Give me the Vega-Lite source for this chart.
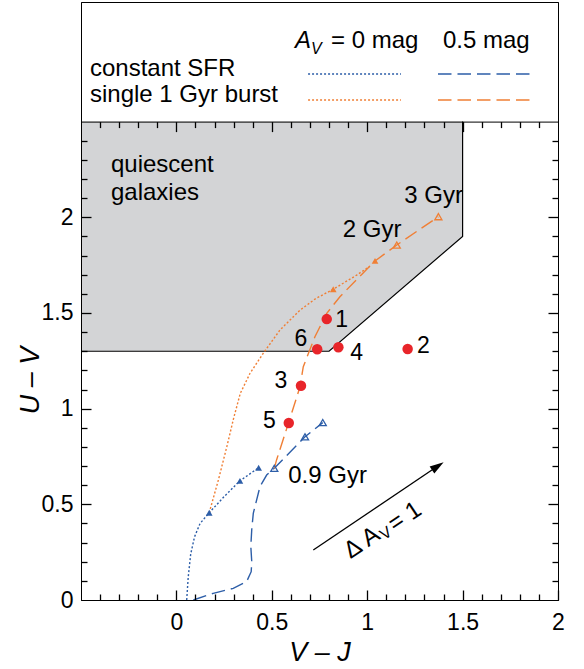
{
  "$schema": "https://vega.github.io/schema/vega-lite/v6.json",
  "width": 477,
  "height": 598,
  "autosize": {"type": "none"},
  "padding": {"left": 81, "top": 2, "right": 26, "bottom": 69},
  "config": {
    "font": "Liberation Sans",
    "view": {"stroke": "black", "strokeWidth": 1}
  },
  "resolve": {"axis": {"x": "independent", "y": "independent"}},
  "layer": [
    {
      "data": {"values": [
        {"x": -0.5, "y": 1.3, "ytop": 2.5},
        {"x": 0.8, "y": 1.3, "ytop": 2.5},
        {"x": 1.5, "y": 1.9, "ytop": 2.5}
      ]},
      "mark": {"type": "area", "color": "#d3d4d6", "opacity": 1},
      "encoding": {
        "x": {"field": "x", "type": "quantitative",
          "scale": {"domain": [-0.5, 2], "nice": false, "zero": false},
          "axis": {
            "orient": "bottom", "zindex": 1,
            "values": [-0.4, -0.3, -0.2, -0.1, 0, 0.1, 0.2, 0.3, 0.4, 0.5, 0.6, 0.7, 0.8, 0.9, 1, 1.1, 1.2, 1.3, 1.4, 1.5, 1.6, 1.7, 1.8, 1.9, 2],
            "format": "~g",
            "labelExpr": "abs(datum.value*2-round(datum.value*2))<0.001 ? datum.label : ''",
            "tickSize": {"condition": {"test": "abs(datum.value*2-round(datum.value*2))<0.001", "value": -10}, "value": -6},
            "tickColor": "black", "domainColor": "black", "tickWidth": 1.3, "domainWidth": 1,
            "labelFontSize": 23, "labelColor": "black", "labelPadding": 21,
            "labelFlush": false, "labelOverlap": false, "labelBound": false,
            "grid": false,
            "title": "V – J", "titleFontSize": 27, "titleFontStyle": "italic", "titleFontWeight": "normal",
            "titleColor": "black", "titleY": 52, "titleBaseline": "middle"
          }
        },
        "y": {"field": "y", "type": "quantitative",
          "scale": {"domain": [0, 3.125], "nice": false, "zero": false},
          "axis": {
            "orient": "left", "zindex": 1,
            "values": [0, 0.5, 1, 1.5, 2],
            "format": "~g",
            "tickSize": -10, "tickOpacity": 0,
            "domainColor": "black", "domainWidth": 1,
            "labelFontSize": 23, "labelColor": "black", "labelPadding": 18,
            "labelFlush": false, "labelOverlap": false, "labelBound": false,
            "grid": false,
            "title": "U – V", "titleFontSize": 27, "titleFontStyle": "italic", "titleFontWeight": "normal",
            "titleColor": "black", "titleX": -51, "titleY": 378, "titleBaseline": "middle", "titleAlign": "center", "titleAngle": 270
          }
        },
        "y2": {"field": "ytop"}
      }
    },
    {
      "data": {"values": [
        {"x": -0.5, "y": 1.3, "o": 1},
        {"x": 0.8, "y": 1.3, "o": 2},
        {"x": 1.5, "y": 1.9, "o": 3},
        {"x": 1.5, "y": 2.5, "o": 4}
      ]},
      "mark": {"type": "line", "color": "black", "strokeWidth": 1.2},
      "encoding": {
        "x": {"field": "x", "type": "quantitative",
          "axis": {"orient": "top", "offset": -129.6, "zindex": 1, "values": [0, 0.5, 1, 1.5],
            "tickSize": 10, "tickColor": "black", "tickWidth": 1.3, "labels": false, "domain": false, "title": null, "grid": false}
        },
        "y": {"field": "y", "type": "quantitative",
          "axis": {"orient": "left", "offset": -10, "zindex": 1, "values": [0.5, 1, 1.5, 2],
            "tickSize": 10, "tickColor": "black", "tickWidth": 1.3, "labels": false, "domain": false, "title": null, "grid": false}
        },
        "order": {"field": "o"}
      }
    },
    {
      "data": {"values": [
        {"series": "sfr0", "o": 1, "x": 0.054, "y": 0},
        {"series": "sfr0", "o": 2, "x": 0.062, "y": 0.12},
        {"series": "sfr0", "o": 3, "x": 0.075, "y": 0.24},
        {"series": "sfr0", "o": 4, "x": 0.095, "y": 0.33},
        {"series": "sfr0", "o": 5, "x": 0.124, "y": 0.40},
        {"series": "sfr0", "o": 6, "x": 0.172, "y": 0.456},
        {"series": "sfr0", "o": 7, "x": 0.25, "y": 0.54},
        {"series": "sfr0", "o": 8, "x": 0.333, "y": 0.623},
        {"series": "sfr0", "o": 9, "x": 0.431, "y": 0.691},
        {"series": "burst0", "o": 1, "x": 0.172, "y": 0.456},
        {"series": "burst0", "o": 2, "x": 0.22, "y": 0.627},
        {"series": "burst0", "o": 3, "x": 0.264, "y": 0.80},
        {"series": "burst0", "o": 4, "x": 0.30, "y": 0.95},
        {"series": "burst0", "o": 5, "x": 0.335, "y": 1.08},
        {"series": "burst0", "o": 6, "x": 0.386, "y": 1.185},
        {"series": "burst0", "o": 7, "x": 0.455, "y": 1.289},
        {"series": "burst0", "o": 8, "x": 0.543, "y": 1.411},
        {"series": "burst0", "o": 9, "x": 0.648, "y": 1.515},
        {"series": "burst0", "o": 10, "x": 0.73, "y": 1.575},
        {"series": "burst0", "o": 11, "x": 0.822, "y": 1.624},
        {"series": "burst0", "o": 12, "x": 0.945, "y": 1.698},
        {"series": "burst0", "o": 13, "x": 1.015, "y": 1.745},
        {"series": "sfr05", "o": 1, "x": 0.089, "y": 0},
        {"series": "sfr05", "o": 2, "x": 0.193, "y": 0.035},
        {"series": "sfr05", "o": 3, "x": 0.298, "y": 0.061},
        {"series": "sfr05", "o": 4, "x": 0.368, "y": 0.096},
        {"series": "sfr05", "o": 5, "x": 0.392, "y": 0.148},
        {"series": "sfr05", "o": 6, "x": 0.395, "y": 0.20},
        {"series": "sfr05", "o": 7, "x": 0.390, "y": 0.28},
        {"series": "sfr05", "o": 8, "x": 0.395, "y": 0.37},
        {"series": "sfr05", "o": 9, "x": 0.403, "y": 0.453},
        {"series": "sfr05", "o": 10, "x": 0.438, "y": 0.592},
        {"series": "sfr05", "o": 11, "x": 0.473, "y": 0.653},
        {"series": "sfr05", "o": 12, "x": 0.513, "y": 0.688},
        {"series": "sfr05", "o": 13, "x": 0.674, "y": 0.853},
        {"series": "sfr05", "o": 14, "x": 0.767, "y": 0.927},
        {"series": "burst05", "o": 1, "x": 0.513, "y": 0.688},
        {"series": "burst05", "o": 2, "x": 0.525, "y": 0.732},
        {"series": "burst05", "o": 3, "x": 0.587, "y": 0.923},
        {"series": "burst05", "o": 4, "x": 0.648, "y": 1.115},
        {"series": "burst05", "o": 5, "x": 0.665, "y": 1.219},
        {"series": "burst05", "o": 6, "x": 0.726, "y": 1.376},
        {"series": "burst05", "o": 7, "x": 0.788, "y": 1.498},
        {"series": "burst05", "o": 8, "x": 0.857, "y": 1.585},
        {"series": "burst05", "o": 9, "x": 0.95, "y": 1.68},
        {"series": "burst05", "o": 10, "x": 1.041, "y": 1.772},
        {"series": "burst05", "o": 11, "x": 1.155, "y": 1.855},
        {"series": "burst05", "o": 12, "x": 1.373, "y": 2.003}
      ]},
      "mark": {"type": "line", "strokeWidth": 1.4},
      "encoding": {
        "x": {"field": "x", "type": "quantitative",
          "axis": {"orient": "top", "offset": -125.6, "zindex": 1,
            "values": [-0.4, -0.3, -0.2, -0.1, 0.1, 0.2, 0.3, 0.4, 0.6, 0.7, 0.8, 0.9, 1.1, 1.2, 1.3, 1.4, 1.6, 1.7, 1.8, 1.9],
            "tickSize": 6, "tickColor": "black", "tickWidth": 1.3, "labels": false, "domain": false, "title": null, "grid": false}
        },
        "y": {"field": "y", "type": "quantitative",
          "axis": {"orient": "left", "offset": -6, "zindex": 1,
            "values": [0.1, 0.2, 0.3, 0.4, 0.6, 0.7, 0.8, 0.9, 1.1, 1.2, 1.3, 1.4, 1.6, 1.7, 1.8, 1.9, 2.1, 2.2, 2.3, 2.4],
            "tickSize": 6, "tickColor": "black", "tickWidth": 1.3, "labels": false, "domain": false, "title": null, "grid": false}
        },
        "order": {"field": "o"},
        "color": {"field": "series", "type": "nominal", "legend": null,
          "scale": {"domain": ["sfr0", "burst0", "sfr05", "burst05"], "range": ["#2d5ea8", "#f07f35", "#2d5ea8", "#f07f35"]}},
        "strokeDash": {"field": "series", "type": "nominal", "legend": null,
          "scale": {"domain": ["sfr0", "burst0", "sfr05", "burst05"], "range": [[2, 2], [2, 2], [13.5, 6], [13.5, 6]]}}
      }
    },
    {
      "data": {"values": [
        {"series": "sfr0", "x": 0.69, "x2": 1.177, "y": 2.749},
        {"series": "sfr05", "x": 1.371, "x2": 1.869, "y": 2.749},
        {"series": "burst0", "x": 0.69, "x2": 1.177, "y": 2.613},
        {"series": "burst05", "x": 1.371, "x2": 1.869, "y": 2.613}
      ]},
      "mark": {"type": "rule", "strokeWidth": 1.4},
      "encoding": {
        "x": {"field": "x", "type": "quantitative", "axis": null},
        "x2": {"field": "x2"},
        "y": {"field": "y", "type": "quantitative", "axis": null},
        "color": {"field": "series", "type": "nominal", "legend": null},
        "strokeDash": {"field": "series", "type": "nominal", "legend": null}
      }
    },
    {
      "data": {"values": [
        {"series": "sfr0", "x": 0.172, "y": 0.456},
        {"series": "sfr0", "x": 0.333, "y": 0.623},
        {"series": "sfr0", "x": 0.431, "y": 0.691},
        {"series": "burst0", "x": 0.822, "y": 1.624},
        {"series": "burst05", "x": 1.041, "y": 1.772}
      ]},
      "mark": {"type": "point", "shape": "triangle-up", "filled": true, "size": 45, "opacity": 1},
      "encoding": {
        "x": {"field": "x", "type": "quantitative", "axis": null},
        "y": {"field": "y", "type": "quantitative", "axis": null},
        "color": {"field": "series", "type": "nominal", "legend": null}
      }
    },
    {
      "data": {"values": [
        {"series": "sfr05", "x": 0.513, "y": 0.688},
        {"series": "sfr05", "x": 0.674, "y": 0.853},
        {"series": "sfr05", "x": 0.767, "y": 0.927},
        {"series": "burst05", "x": 1.155, "y": 1.855},
        {"series": "burst05", "x": 1.373, "y": 2.003}
      ]},
      "mark": {"type": "point", "shape": "triangle-up", "filled": false, "size": 50, "strokeWidth": 1.3, "opacity": 1},
      "encoding": {
        "x": {"field": "x", "type": "quantitative", "axis": null},
        "y": {"field": "y", "type": "quantitative", "axis": null},
        "color": {"field": "series", "type": "nominal", "legend": null}
      }
    },
    {
      "data": {"values": [
        {"id": "1", "x": 0.788, "y": 1.468},
        {"id": "2", "x": 1.212, "y": 1.312},
        {"id": "3", "x": 0.653, "y": 1.120},
        {"id": "4", "x": 0.849, "y": 1.321},
        {"id": "5", "x": 0.589, "y": 0.925},
        {"id": "6", "x": 0.738, "y": 1.310}
      ]},
      "mark": {"type": "circle", "color": "#e8252a", "size": 110, "opacity": 1},
      "encoding": {
        "x": {"field": "x", "type": "quantitative",
          "axis": {
            "orient": "top", "offset": -119.6, "zindex": 1,
            "values": [0, 1],
            "labels": false, "title": null, "grid": false, "ticks": false,
            "domainColor": "black", "domainWidth": 1
          }
        },
        "y": {"field": "y", "type": "quantitative",
          "axis": {
            "orient": "right", "zindex": 1,
            "values": [0.1, 0.2, 0.3, 0.4, 0.5, 0.6, 0.7, 0.8, 0.9, 1, 1.1, 1.2, 1.3, 1.4, 1.5, 1.6, 1.7, 1.8, 1.9, 2, 2.1, 2.2, 2.3, 2.4],
            "labels": false, "title": null, "grid": false,
            "tickSize": {"condition": {"test": "abs(datum.value*2-round(datum.value*2))<0.001", "value": -10}, "value": -6},
            "tickColor": "black", "domainColor": "black", "tickWidth": 1.3, "domainWidth": 1
          }
        }
      }
    },
    {
      "data": {"values": [
        {"t": "1", "x": 0.866, "y": 1.428},
        {"t": "6", "x": 0.653, "y": 1.327},
        {"t": "4", "x": 0.945, "y": 1.254},
        {"t": "2", "x": 1.294, "y": 1.289},
        {"t": "3", "x": 0.547, "y": 1.106},
        {"t": "5", "x": 0.487, "y": 0.897}
      ]},
      "mark": {"type": "text", "fontSize": 23, "align": "center", "baseline": "alphabetic", "color": "black"},
      "encoding": {
        "x": {"field": "x", "type": "quantitative", "axis": null},
        "y": {"field": "y", "type": "quantitative", "axis": null},
        "text": {"field": "t"}
      }
    },
    {
      "data": {"values": [
        {"t": "quiescent", "x": -0.343, "y": 2.237},
        {"t": "galaxies", "x": -0.343, "y": 2.090},
        {"t": "0.9 Gyr", "x": 0.586, "y": 0.610},
        {"t": "2 Gyr", "x": 0.872, "y": 1.895},
        {"t": "3 Gyr", "x": 1.194, "y": 2.073},
        {"t": "constant SFR", "x": -0.453, "y": 2.738},
        {"t": "single 1 Gyr burst", "x": -0.453, "y": 2.602},
        {"t": "= 0 mag", "x": 0.810, "y": 2.885},
        {"t": "0.5 mag", "x": 1.397, "y": 2.885}
      ]},
      "mark": {"type": "text", "fontSize": 24, "align": "left", "baseline": "alphabetic", "color": "black"},
      "encoding": {
        "x": {"field": "x", "type": "quantitative", "axis": null},
        "y": {"field": "y", "type": "quantitative", "axis": null},
        "text": {"field": "t"}
      }
    },
    {
      "data": {"values": [
        {"t": "A", "x": 0.6216, "y": 2.885}
      ]},
      "mark": {"type": "text", "fontSize": 24, "fontStyle": "italic", "align": "left", "baseline": "alphabetic", "color": "black"},
      "encoding": {
        "x": {"field": "x", "type": "quantitative", "axis": null},
        "y": {"field": "y", "type": "quantitative", "axis": null},
        "text": {"field": "t"}
      }
    },
    {
      "data": {"values": [
        {"t": "V", "x": 0.705, "y": 2.854}
      ]},
      "mark": {"type": "text", "fontSize": 16, "fontStyle": "italic", "align": "left", "baseline": "alphabetic", "color": "black"},
      "encoding": {
        "x": {"field": "x", "type": "quantitative", "axis": null},
        "y": {"field": "y", "type": "quantitative", "axis": null},
        "text": {"field": "t"}
      }
    },
    {
      "data": {"values": [
        {"x": 0.7175, "y": 0.261, "x2": 1.38, "y2": 0.707}
      ]},
      "mark": {"type": "rule", "color": "black", "strokeWidth": 1.3},
      "encoding": {
        "x": {"field": "x", "type": "quantitative", "axis": null},
        "y": {"field": "y", "type": "quantitative", "axis": null},
        "x2": {"field": "x2"},
        "y2": {"field": "y2"}
      }
    },
    {
      "data": {"values": [
        {"x": 1.37, "y": 0.70}
      ]},
      "mark": {"type": "point", "shape": "M0,-1L0.6,1L-0.6,1Z", "angle": 56, "filled": true, "color": "black", "size": 196, "opacity": 1},
      "encoding": {
        "x": {"field": "x", "type": "quantitative", "axis": null},
        "y": {"field": "y", "type": "quantitative", "axis": null}
      }
    },
    {
      "data": {"values": [
        {"t": "Δ A", "x": 0.973, "y": 0.298},
        {"t": "= 1", "x": 1.198, "y": 0.434}
      ]},
      "mark": {"type": "text", "fontSize": 24, "angle": -34, "align": "center", "baseline": "middle", "color": "black"},
      "encoding": {
        "x": {"field": "x", "type": "quantitative", "axis": null},
        "y": {"field": "y", "type": "quantitative", "axis": null},
        "text": {"field": "t"}
      }
    },
    {
      "data": {"values": [
        {"t": "V", "x": 1.098, "y": 0.348}
      ]},
      "mark": {"type": "text", "fontSize": 16, "angle": -34, "align": "center", "baseline": "middle", "color": "black"},
      "encoding": {
        "x": {"field": "x", "type": "quantitative", "axis": null},
        "y": {"field": "y", "type": "quantitative", "axis": null},
        "text": {"field": "t"}
      }
    }
  ]
}
